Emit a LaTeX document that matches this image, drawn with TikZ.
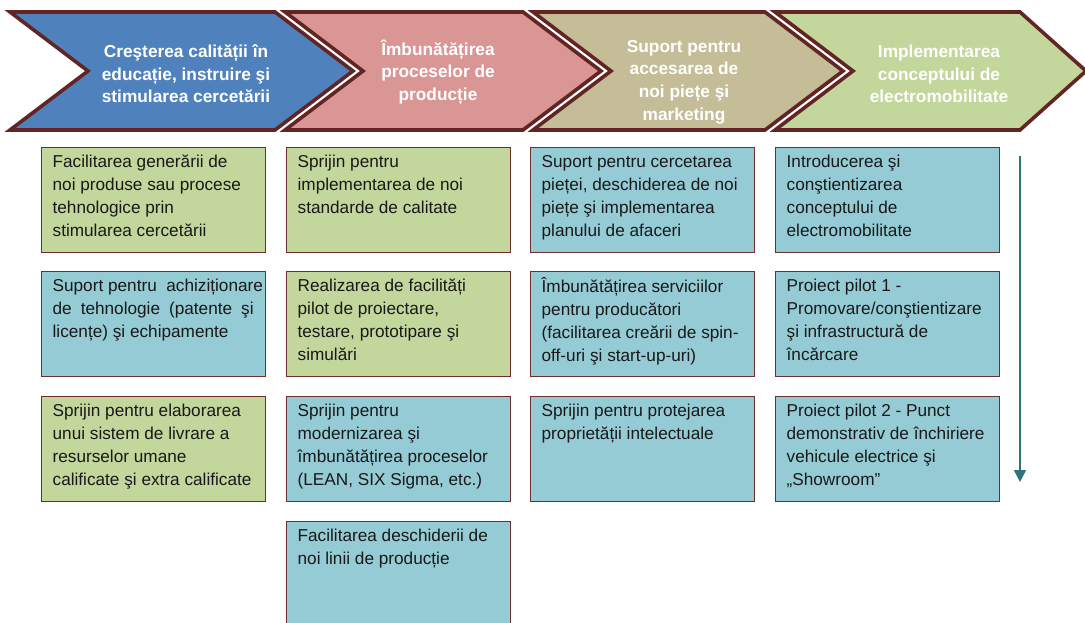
\documentclass[tikz,border=0pt]{standalone}
\usepackage{fontspec}
\setmainfont{Liberation Sans}
\usetikzlibrary{arrows.meta}
\definecolor{chevborder}{HTML}{632523}
\definecolor{boxborder}{HTML}{6E2E2C}
\definecolor{cblue}{HTML}{4F81BD}
\definecolor{cpink}{HTML}{D99694}
\definecolor{ckhaki}{HTML}{C4BD97}
\definecolor{cgreen}{HTML}{C3D69B}
\definecolor{bgreen}{HTML}{C3D69B}
\definecolor{bteal}{HTML}{95CBD5}
\definecolor{arrowcol}{HTML}{31737B}
\newcommand{\bxt}[1]{\parbox[t][93pt][t]{202pt}{\raggedright\rule{0pt}{14pt}#1}}
\tikzset{
  chev/.style={draw=chevborder, line width=3.6pt, line join=miter},
  head/.style={text=white, font=\fontsize{17.3}{22.6}\selectfont\bfseries, align=center, inner sep=0pt},
  box/.style={draw=boxborder, line width=1.3pt, inner xsep=11pt, inner ysep=6pt, anchor=north west,
              font=\fontsize{17.2}{23}\selectfont, text=black!90},
  gbox/.style={box, fill=bgreen},
  tbox/.style={box, fill=bteal},
}
\begin{document}
\begin{tikzpicture}[x=1pt,y=-1pt]
\useasboundingbox (0,0) rectangle (1085,623);
% chevrons
\draw[chev, fill=cblue]  (10,12) -- (275,12) -- (353,71) -- (275,130) -- (10,130) -- (88,71) -- cycle;
\draw[chev, fill=cpink]  (285,12) -- (523,12) -- (601,71) -- (523,130) -- (285,130) -- (363,71) -- cycle;
\draw[chev, fill=ckhaki] (533,12) -- (765,12) -- (843,71) -- (765,130) -- (533,130) -- (611,71) -- cycle;
\draw[chev, fill=cgreen] (775,12) -- (1020,12) -- (1086,71) -- (1020,130) -- (775,130) -- (853,71) -- cycle;
\node[head] (h1) at (186,74) {Creşterea calității în\\educație, instruire şi\\stimularea cercetării};
\node[head] (h2) at (438,72) {Îmbunătățirea\\proceselor de\\producție};
\node[head] (h3) at (684,82) {Suport pentru\\accesarea de\\noi piețe şi\\marketing};
\node[head] (h4) at (939,74) {Implementarea\\conceptului de\\electromobilitate};
% column 1
\node[gbox] (a1) at (41,147) {\bxt{Facilitarea generării de\\noi produse sau procese\\tehnologice prin\\stimularea cercetării}};
\node[tbox] (a2) at (41,271) {\bxt{\mbox{Suport pentru\ \ achiziționare}\\\makebox[201pt][s]{de tehnologie (patente şi}\\licențe) şi echipamente}};
\node[gbox] (a3) at (41,396) {\bxt{Sprijin pentru elaborarea\\unui sistem de livrare a\\resurselor umane\\\mbox{calificate şi extra calificate}}};
% column 2
\node[gbox] (b1) at (286,147) {\bxt{Sprijin pentru\\implementarea de noi\\standarde de calitate}};
\node[gbox] (b2) at (286,271) {\bxt{Realizarea de facilități\\pilot de proiectare,\\testare, prototipare şi\\simulări}};
\node[tbox] (b3) at (286,396) {\bxt{Sprijin pentru\\modernizarea şi\\\mbox{îmbunătățirea proceselor}\\(LEAN, SIX Sigma, etc.)}};
\node[tbox] (b4) at (286,521) {\bxt{\mbox{Facilitarea deschiderii de}\\noi linii de producție}};
% column 3
\node[tbox] (c1) at (530,147) {\bxt{Suport pentru cercetarea\\\mbox{pieței, deschiderea de noi}\\piețe şi implementarea\\planului de afaceri}};
\node[tbox] (c2) at (530,271) {\bxt{Îmbunătățirea serviciilor\\pentru producători\\\mbox{(facilitarea creării de spin-}\\off-uri şi start-up-uri)}};
\node[tbox] (c3) at (530,396) {\bxt{Sprijin pentru protejarea\\proprietății intelectuale}};
% column 4
\node[tbox] (d1) at (775,147) {\bxt{Introducerea şi\\conştientizarea\\conceptului de\\electromobilitate}};
\node[tbox] (d2) at (775,271) {\bxt{Proiect pilot 1 -\\\mbox{Promovare/conştientizare}\\şi infrastructură de\\încărcare}};
\node[tbox] (d3) at (775,396) {\bxt{Proiect pilot 2 - Punct\\\mbox{demonstrativ de închiriere}\\vehicule electrice şi\\„Showroom”}};
% arrow
\coordinate (arrs) at (1020,156);
\coordinate (arre) at (1020,482);
\draw[arrowcol, line width=1.6pt, -{Triangle[width=12pt,length=12pt]}] (arrs) -- (arre);
\end{tikzpicture}
\end{document}
